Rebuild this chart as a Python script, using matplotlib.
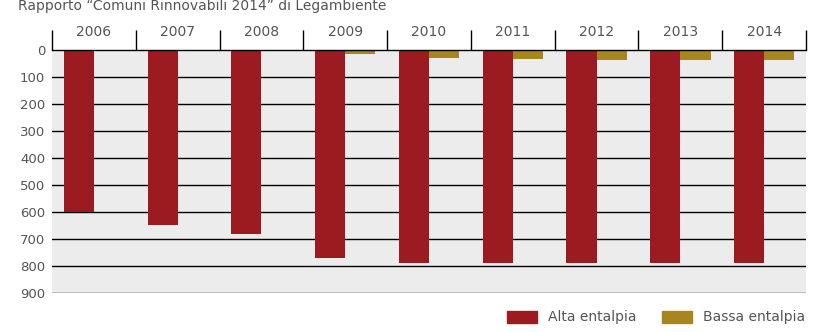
import matplotlib.pyplot as plt
import numpy as np
from matplotlib.patches import Patch

years = ['2006', '2007', '2008', '2009', '2010', '2011', '2012', '2013', '2014']
alta = [600, 650, 680, 770, 790, 790, 790, 790, 790]
bassa = [0, 0, 0, 16, 28, 35, 38, 38, 38]
yticks = [0, 100, 200, 300, 400, 500, 600, 700, 800, 900]

red = '#9b1b20'
gold = '#a8861f'
grey_txt = '#555555'

plt.rcParams['font.family'] = ['DejaVu Sans']

fig = plt.figure(figsize=(8.39, 3.32), dpi=100)
ax = fig.add_axes([0.062, 0.1175, 0.8987, 0.732])
ax.set_facecolor('#ececec')

x = np.arange(len(years))
w = 0.36
ax.bar(x - w / 2, alta, width=w, color=red, zorder=3)
ax.bar(x + w / 2, bassa, width=w, color=gold, zorder=3)

# horizontal lines behind the bars
for v in yticks[1:]:
    ax.axhline(v, color='black', linewidth=1, zorder=1)

ax.set_xlim(-0.5, len(years) - 0.5)
ax.set_ylim(900, 0)
ax.set_yticks(yticks)
ax.tick_params(axis='y', length=0, pad=5, labelsize=9.5, labelcolor=grey_txt)

ax.xaxis.tick_top()
ax.set_xticks(x)
ax.set_xticklabels(years)
ax.set_xticks(np.arange(len(years) + 1) - 0.5, minor=True)
ax.tick_params(axis='x', which='major', length=0, pad=8, labelsize=10, labelcolor=grey_txt)
ax.tick_params(axis='x', which='minor', length=14.5, width=1, color='black', direction='out')

for s in ['left', 'right', 'bottom']:
    ax.spines[s].set_visible(False)
ax.spines['top'].set_color('black')
ax.spines['top'].set_linewidth(1)
ax.spines['top'].set_zorder(4)

fig.text(0.022, 0.983, 'Rapporto “Comuni Rinnovabili 2014” di Legambiente',
         fontsize=10, color=grey_txt, va='center', ha='left')

handles = [Patch(color=red, label='Alta entalpia'), Patch(color=gold, label='Bassa entalpia')]
fig.legend(handles=handles, loc='lower right', bbox_to_anchor=(0.975, -0.015), ncol=2,
           frameon=False, fontsize=10, labelcolor=grey_txt, handlelength=2.2,
           handleheight=1.0, columnspacing=1.8, handletextpad=0.8)

fig.savefig('out.png', dpi=100)
